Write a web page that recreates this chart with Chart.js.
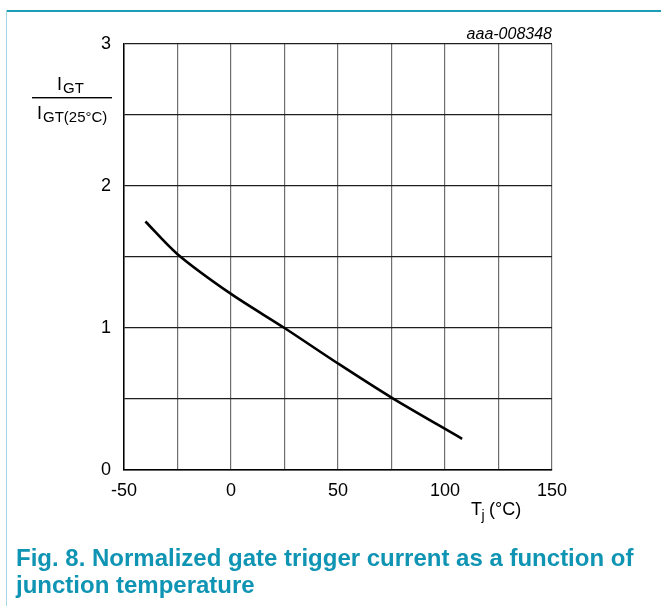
<!DOCTYPE html>
<html>
<head>
<meta charset="utf-8">
<script src="https://cdn.jsdelivr.net/npm/chart.js@4.4.0/dist/chart.umd.min.js"></script>
<style>
  html, body { margin: 0; padding: 0; background: #fff; }
  #wrap { position: relative; width: 661px; height: 606px; overflow: hidden; }
  #topline { position: absolute; left: 6px; top: 10px; width: 655px; height: 2px; background: #1b9db6; }
  #leftline { position: absolute; left: 6px; top: 10px; width: 1px; height: 596px; background: #a6d6e6; }
  #grafico { position: absolute; left: 0; top: 0; }
  #caption {
    position: absolute; left: 16px; top: 545px; width: 645px; white-space: nowrap;
    font-family: "Liberation Sans", Arial, sans-serif; font-weight: bold;
    font-size: 24px; line-height: 26.7px; color: #0f94b3;
  }
</style>
</head>
<body>
<div id="wrap">
  <div id="topline"></div>
  <div id="leftline"></div>
  <canvas id="grafico" width="661" height="606"></canvas>
  <div id="caption">Fig. 8. Normalized gate trigger current as a function of<br>junction temperature</div>
</div>
<script>
const temperaturas = [-40, -25, 0, 25, 50, 75, 108];
const igtNorm = [1.75, 1.52, 1.24, 1.0, 0.75, 0.51, 0.22];
const etiquetasX = [-50, 0, 50, 100, 150];
const etiquetasY = [0, 1, 2, 3];

const fuente = '"Liberation Sans", Arial, sans-serif';

const textosExtra = {
  id: "textosExtra",
  afterDraw(chart) {
    const c = chart.ctx;
    c.save();
    c.fillStyle = "#000";
    // codigo de figura
    c.font = "italic 16px " + fuente;
    c.textAlign = "right";
    c.textBaseline = "alphabetic";
    c.fillText("aaa-008348", chart.chartArea.right, 39);

    // titulo eje Y (fraccion)
    c.textAlign = "left";
    c.font = "18px " + fuente;
    c.fillText("I", 57, 90);
    c.font = "15px " + fuente;
    c.fillText("GT", 63, 92.5);
    c.fillRect(32, 97, 80, 1.4);
    c.font = "18px " + fuente;
    c.fillText("I", 37, 118.5);
    c.font = "15px " + fuente;
    c.fillText("GT(25°C)", 43, 121.5);

    // titulo eje X
    c.font = "18px " + fuente;
    c.fillText("T", 471, 515);
    c.font = "14px " + fuente;
    c.fillText("j", 481.5, 520);
    c.font = "18px " + fuente;
    c.fillText("(°C)", 489, 515);
    c.restore();
  }
};

const ctx = document.getElementById("grafico").getContext("2d");
new Chart(ctx, {
  type: "line",
  data: {
    datasets: [{
      data: temperaturas.map((t, i) => ({ x: t, y: igtNorm[i] })),
      borderColor: "#000",
      borderWidth: 2.6,
      pointRadius: 0,
      tension: 0.3,
      fill: false
    }]
  },
  options: {
    responsive: false,
    animation: false,
    events: [],
    layout: { padding: { left: 0, top: 44, right: 109, bottom: 0 } },
    plugins: { legend: { display: false }, tooltip: { enabled: false } },
    scales: {
      x: {
        type: "linear",
        min: -50, max: 150,
        afterFit(scale) { scale.height = 136; },
        ticks: {
          stepSize: 25,
          padding: 10,
          color: "#000",
          font: { family: fuente, size: 18 },
          maxRotation: 0,
          callback: v => etiquetasX.includes(v) ? String(v) : ""
        },
        grid: { color: "#6e6e6e", lineWidth: 1.2, drawTicks: false },
        border: { color: "#000", width: 1.5 }
      },
      y: {
        min: 0, max: 3,
        afterFit(scale) { scale.width = 124; },
        ticks: {
          stepSize: 0.5,
          padding: 13,
          color: "#000",
          font: { family: fuente, size: 18 },
          callback: v => etiquetasY.includes(v) ? String(v) : ""
        },
        grid: { color: "#1e1e1e", lineWidth: 1.2, drawTicks: false },
        border: { color: "#000", width: 1.5 }
      }
    }
  },
  plugins: [textosExtra]
});
</script>
</body>
</html>
